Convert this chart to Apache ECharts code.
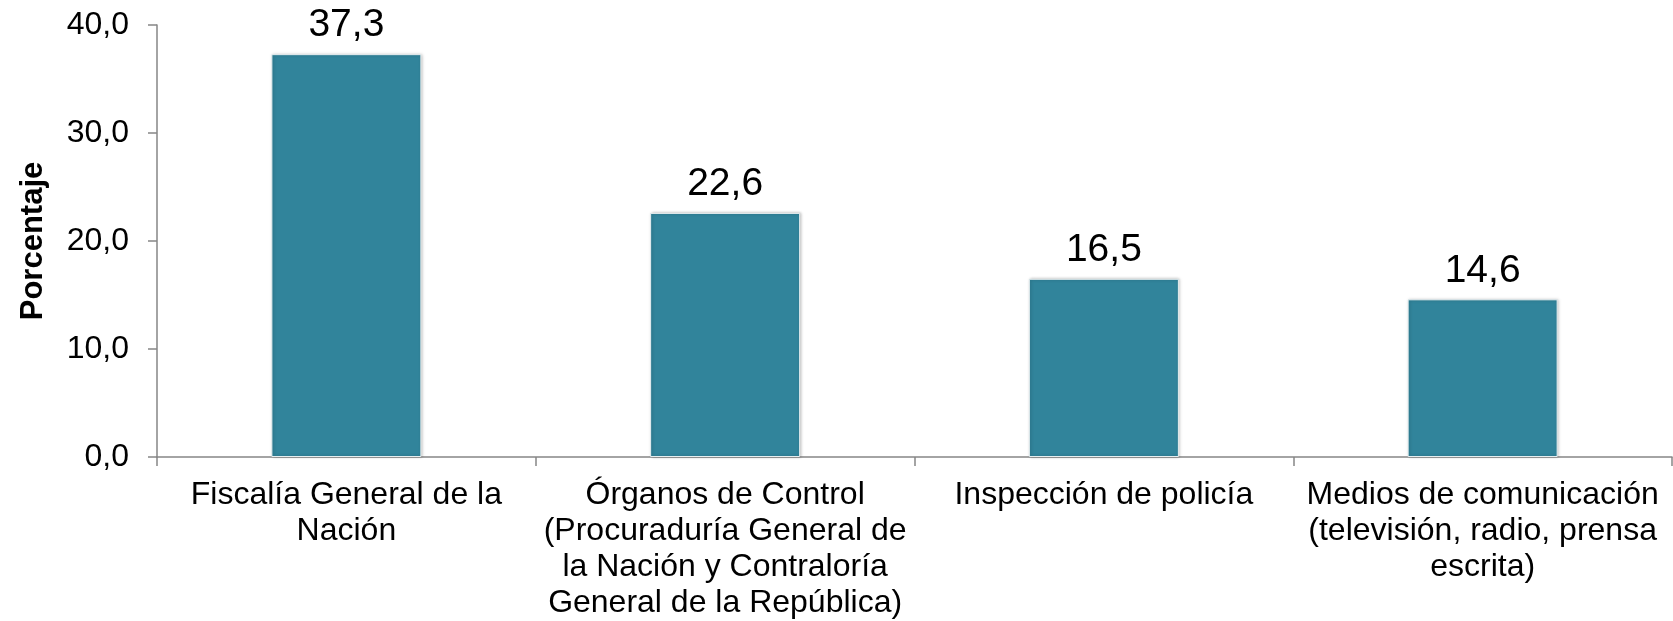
<!DOCTYPE html>
<html>
<head>
<meta charset="utf-8">
<script src="https://cdn.jsdelivr.net/npm/echarts@6/dist/echarts.min.js"></script>
<style>
  html, body { margin: 0; padding: 0; background: #fff; }
  #chart { width: 1673px; height: 621px; }
</style>
</head>
<body>
<div id="chart"></div>
<script>
  // datos
  var categorias = [
    'Fiscalía General de la\nNación',
    'Órganos de Control\n(Procuraduría General de\nla Nación y Contraloría\nGeneral de la República)',
    'Inspección de policía',
    'Medios de comunicación\n(televisión, radio, prensa\nescrita)'
  ]
  var porcentajes = [37.3, 22.6, 16.5, 14.6]
  var ejeY = { min: 0, max: 40, paso: 10 }

  var fuente = '"Liberation Sans", Arial, sans-serif'
  var coma = function (v) { return v.toFixed(1).replace('.', ',') }

  var myChart = echarts.init(document.getElementById('chart'))
  myChart.setOption({
    animation: false,
    grid: { left: 157, right: 1, top: 25, bottom: 164 },
    xAxis: {
      type: 'category',
      data: categorias,
      axisLine: { lineStyle: { color: '#868686', width: 1.5 } },
      axisTick: { show: true, alignWithLabel: false, length: 9, lineStyle: { color: '#868686', width: 1.5 } },
      axisLabel: {
        interval: 0,
        margin: 20,
        color: '#000',
        fontSize: 32,
        lineHeight: 36,
        fontFamily: fuente,
        align: 'center'
      }
    },
    yAxis: {
      type: 'value',
      min: ejeY.min,
      max: ejeY.max,
      interval: ejeY.paso,
      name: 'Porcentaje',
      nameLocation: 'middle',
      nameRotate: 90,
      nameGap: 108,
      nameTextStyle: { color: '#000', fontSize: 31, fontWeight: 'bold', fontFamily: fuente },
      splitLine: { show: false },
      axisLine: { show: true, lineStyle: { color: '#868686', width: 1.5 } },
      axisTick: { show: true, length: 9, lineStyle: { color: '#868686', width: 1.5 } },
      axisLabel: {
        margin: 28,
        color: '#000',
        fontSize: 32,
        fontFamily: fuente,
        formatter: function (v) { return coma(v) }
      }
    },
    series: [
      {
        type: 'bar',
        data: porcentajes,
        barWidth: 150,
        itemStyle: {
          color: '#31849B',
          borderColor: '#e6eef0',
          borderWidth: 1,
          shadowColor: 'rgba(0,0,0,0.25)',
          shadowBlur: 3,
          shadowOffsetX: 1,
          shadowOffsetY: 0
        },
        label: {
          show: true,
          position: 'top',
          distance: 9,
          color: '#000',
          fontSize: 39,
          fontFamily: fuente,
          formatter: function (p) { return coma(p.value) }
        }
      }
    ]
  })
</script>
</body>
</html>
